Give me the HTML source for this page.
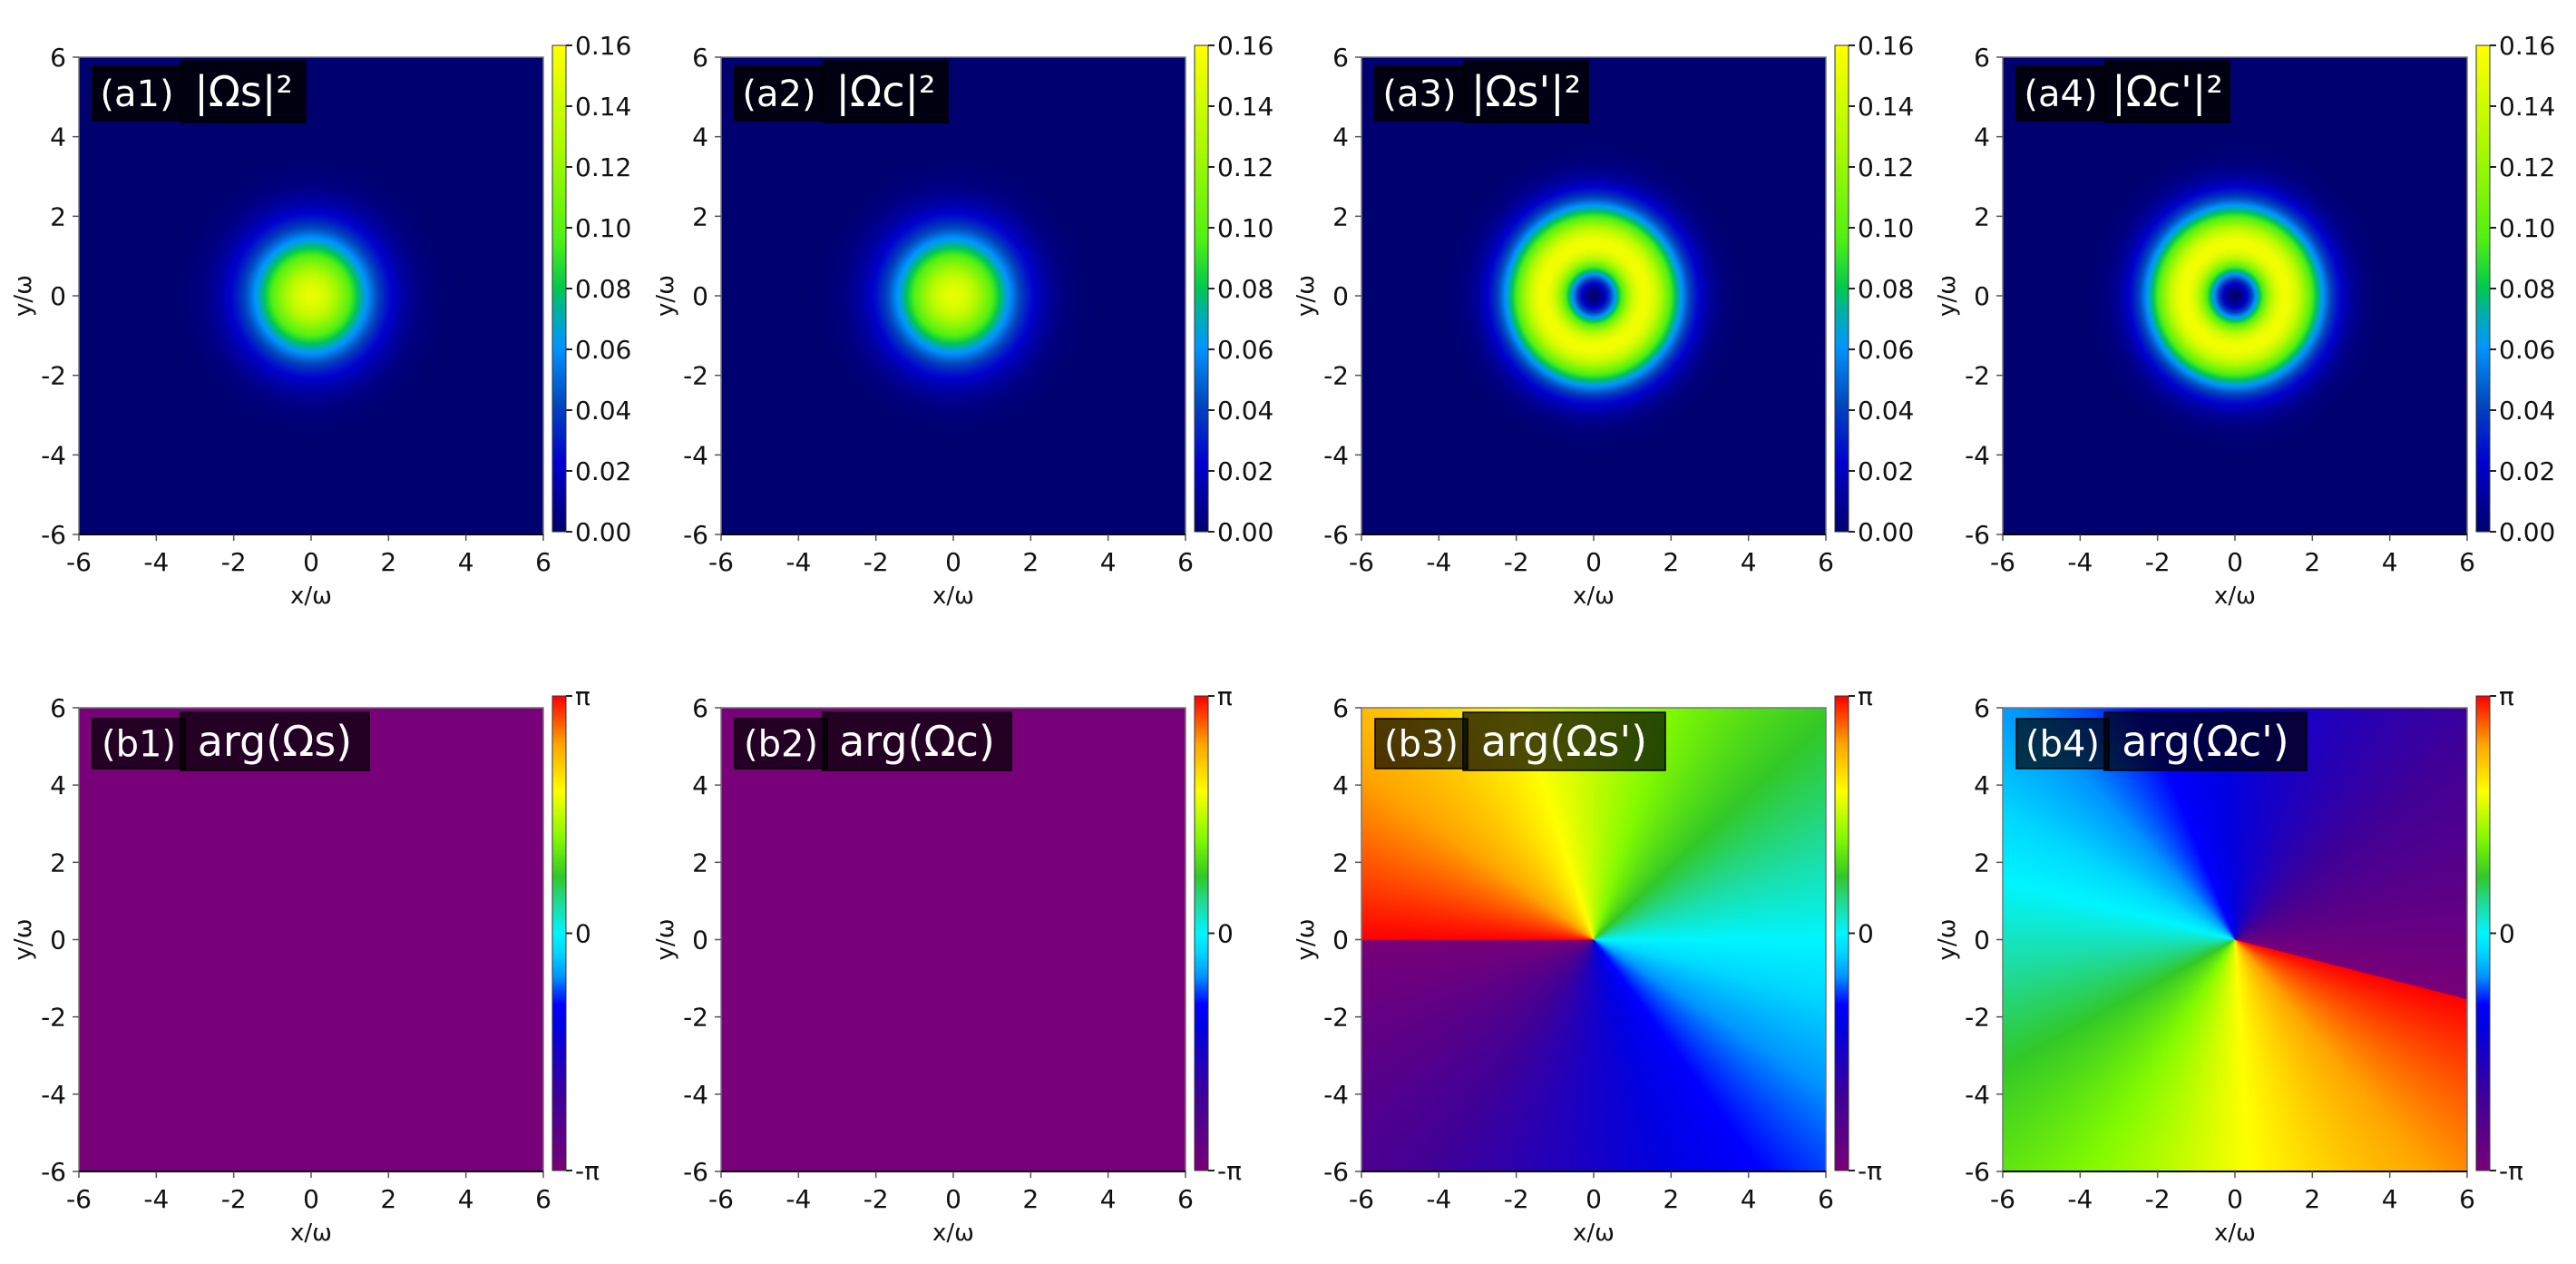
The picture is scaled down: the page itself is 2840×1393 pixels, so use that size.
<!DOCTYPE html>
<html><head><meta charset="utf-8">
<style>
html,body{margin:0;padding:0;background:#fff;}
#root{position:relative;width:2840px;height:1393px;overflow:hidden;background:#fff;font-family:"DejaVu Sans","Liberation Sans",sans-serif;}
canvas{position:absolute;}
svg{position:absolute;left:0;top:0;}
</style></head>
<body>
<div id="root">
<svg id="ov" width="2840" height="1393"></svg>
</div>
<script>
// ---- data ----
const panelIds = ['a1','a2','a3','a4','b1','b2','b3','b4'];
const panelTitles = ['|Ωs|²','|Ωc|²',"|Ωs'|²","|Ωc'|²",'arg(Ωs)','arg(Ωc)',"arg(Ωs')","arg(Ωc')"];
const peakIntensity = [0.15, 0.15, 0.155, 0.155];
const beamWidthSq = [2.3, 2.3, 1.7, 1.7];
const topCharge = [0, 0, 1, 1];
const phaseCharge = [0, 0, 1, 1];
const phaseOffset = [-3.1416, -3.1416, 0, -2.89];
const axisTicks = [-6,-4,-2,0,2,4,6];
const axisTickLabels = ['-6','-4','-2','0','2','4','6'];
const ampTicks = [0,0.02,0.04,0.06,0.08,0.10,0.12,0.14,0.16];
const ampTickLabels = ['0.00','0.02','0.04','0.06','0.08','0.10','0.12','0.14','0.16'];
const phaseTicks = [-Math.PI, 0, Math.PI];
const phaseTickLabels = ['-π','0','π'];

// ---- layout ----
const colLeft = [87,795,1501,2208];
const PW = 512;
const rows = [{top:63,bottom:589,cbTop:50,cbBot:586},{top:780,bottom:1291,cbTop:767,cbBot:1290}];
const ampStops = [[0,[0,0,110]],[0.14,[0,0,205]],[0.26,[0,70,190]],[0.38,[0,150,255]],[0.45,[0,175,170]],[0.5,[0,200,80]],[0.6,[80,240,20]],[0.8,[175,250,0]],[1,[255,255,0]]];
const phaseStops = [[0,[120,0,120]],[0.15,[65,0,150]],[0.3,[0,0,225]],[0.35,[0,0,255]],[0.41,[0,150,255]],[0.46,[0,215,255]],[0.5,[0,245,255]],[0.56,[30,220,160]],[0.62,[50,200,40]],[0.7,[130,250,0]],[0.8,[255,255,0]],[0.9,[255,165,0]],[1,[255,0,0]]];
function cmap(stops,t){
  t=Math.max(0,Math.min(1,t));
  for(let i=1;i<stops.length;i++){ if(t<=stops[i][0]){const a=stops[i-1],b=stops[i];const f=(t-a[0])/(b[0]-a[0]);return [0,1,2].map(k=>a[1][k]+(b[1][k]-a[1][k])*f);} }
  return stops[stops.length-1][1];
}
const svg=document.getElementById('ov');const NS='http://www.w3.org/2000/svg';
function el(tag,attrs,parent){const e=document.createElementNS(NS,tag);for(const k in attrs)e.setAttribute(k,attrs[k]);(parent||svg).appendChild(e);return e;}
const root=document.getElementById('root');

for(let p=0;p<8;p++){
  const r=p<4?0:1, c=p%4, R=rows[r];
  const L=colLeft[c], T=R.top, H=R.bottom-R.top;
  const xs=v=>L+(v+6)/12*PW, ys=v=>T+(6-v)/12*H;
  const cv=document.createElement('canvas');
  
  
  cv.width=PW;cv.height=H;cv.style.left=L+'px';cv.style.top=T+'px';
  root.insertBefore(cv,svg);
  const ctx=cv.getContext('2d');const img=ctx.createImageData(PW,H);
  for(let j=0;j<H;j++){const y=6-(j+0.5)/H*12;
    for(let i=0;i<PW;i++){const x=-6+(i+0.5)/PW*12;let col;
      if(r===0){const A=peakIntensity[c],w=beamWidthSq[c],m=topCharge[c];const r2=x*x+y*y;
        let v=m===0?A*Math.exp(-r2/w):A*Math.E*(r2/w)*Math.exp(-r2/w);
        col=cmap(ampStops,v/0.16);}
      else{let ph;
        if(phaseCharge[c]===0)ph=phaseOffset[c];
        else{ph=phaseCharge[c]*Math.atan2(y,x)+phaseOffset[c];while(ph>Math.PI)ph-=2*Math.PI;while(ph<-Math.PI)ph+=2*Math.PI;}
        col=cmap(phaseStops,(ph+Math.PI)/(2*Math.PI));}
      const k=(j*PW+i)*4;img.data[k]=col[0];img.data[k+1]=col[1];img.data[k+2]=col[2];img.data[k+3]=255;}}
  ctx.putImageData(img,0,0);
  const g=el('g',{});
  
  
  el('rect',{x:L,y:T,width:PW,height:H,fill:'none',stroke:'#777','stroke-width':1.5},g);
  el('line',{x1:L,y1:R.bottom,x2:L+PW,y2:R.bottom,stroke:'#000','stroke-width':2},g);
  axisTicks.forEach((v,i)=>{
    el('line',{x1:xs(v),y1:R.bottom,x2:xs(v),y2:R.bottom+7,stroke:'#555','stroke-width':1.5},g);
    const tx=el('text',{x:xs(v),y:R.bottom+40,'font-size':28,'text-anchor':'middle',fill:'#111'},g);tx.textContent=axisTickLabels[i];
    
    
    el('line',{x1:L,y1:ys(v),x2:L-7,y2:ys(v),stroke:'#555','stroke-width':1.5},g);
    const ty=el('text',{x:L-14,y:ys(v)+10,'font-size':28,'text-anchor':'end',fill:'#111'},g);ty.textContent=axisTickLabels[i];
    
    
  });
  const xl=el('text',{x:L+PW/2,y:R.bottom+76,'font-size':26,'text-anchor':'middle',fill:'#111'},g);xl.textContent='x/ω';
  
  
  const yl=el('text',{x:0,y:0,'font-size':26,'text-anchor':'middle',fill:'#111',transform:`translate(${L-53},${(T+R.bottom)/2}) rotate(-90)`},g);yl.textContent='y/ω';
  
  
  // colorbar
  const cbx=L+PW+10,cbw=15;
  const cbc=document.createElement('canvas');
  
  
  const cbh=R.cbBot-R.cbTop;cbc.width=cbw;cbc.height=cbh;cbc.style.left=cbx+'px';cbc.style.top=R.cbTop+'px';
  root.insertBefore(cbc,svg);
  const cc=cbc.getContext('2d');
  for(let j=0;j<cbh;j++){const col=cmap(r===0?ampStops:phaseStops,1-j/(cbh-1));cc.fillStyle=`rgb(${col.map(Math.round).join(',')})`;cc.fillRect(0,j,cbw,1);}
  el('rect',{x:cbx,y:R.cbTop,width:cbw,height:cbh,fill:'none',stroke:'#333','stroke-width':1},g);
  const tv=r===0?ampTicks:phaseTicks, tl=r===0?ampTickLabels:phaseTickLabels;
  const vmin=r===0?0:-Math.PI, vmax=r===0?0.16:Math.PI;
  tv.forEach((v,i)=>{const yy=R.cbBot-(v-vmin)/(vmax-vmin)*cbh;
    el('line',{x1:cbx+cbw,y1:yy,x2:cbx+cbw+7,y2:yy,stroke:'#222','stroke-width':2},g);
    const t=el('text',{x:cbx+cbw+10,y:yy+10,'font-size':28,fill:'#111'},g);t.textContent=tl[i];
    
    
  });
  // title boxes
  const b1=r===0?{x:L+15,y:T+10,w:98,h:60}:{x:L+15,y:T+12,w:102,h:55};
  const b2=r===0?{x:L+113,y:T+4,w:137,h:68}:{x:L+112,y:T+5,w:(c===0||c===1)?208:223,h:64};
  const op=r===0?0.85:0.7;
  el('rect',{x:b1.x,y:b1.y,width:b1.w,height:b1.h,fill:'#000','fill-opacity':op,stroke:'#000','stroke-width':1.5},g);
  el('rect',{x:b2.x,y:b2.y,width:b2.w,height:b2.h,fill:'#000','fill-opacity':op,stroke:'#000','stroke-width':1.5},g);
  const t1=el('text',{x:b1.x+b1.w/2,y:b1.y+b1.h/2+14,'font-size':40,'text-anchor':'middle',fill:'#fff'},g);t1.textContent='('+panelIds[p]+')';
  
  
  const t2=el('text',{x:b2.x+b2.w/2,y:b2.y+b2.h/2+16,'font-size':46,'text-anchor':'middle',fill:'#fff'},g);t2.textContent=panelTitles[p];
  
  
}
</script>
</body></html>
